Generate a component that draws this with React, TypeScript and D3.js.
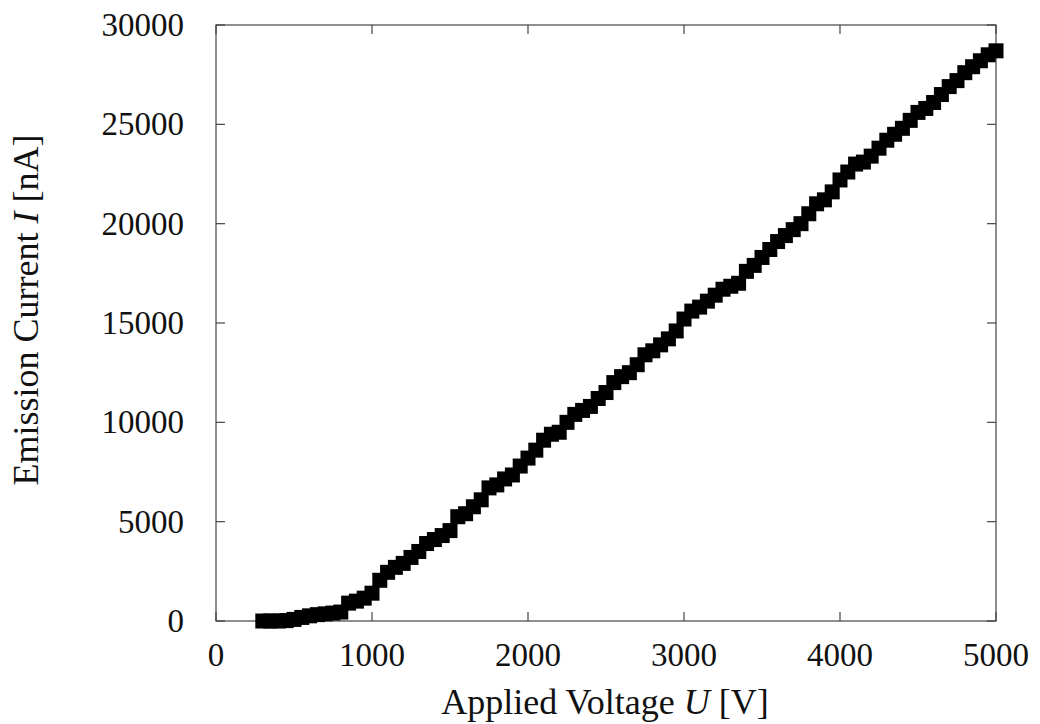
import React from "react";
import * as d3 from "d3";

const voltages: number[] = [
  300, 350, 400, 450, 500, 550, 600, 650, 700, 750, 800, 850, 900, 950, 1000,
  1050, 1100, 1150, 1200, 1250, 1300, 1350, 1400, 1450, 1500, 1550, 1600, 1650,
  1700, 1750, 1800, 1850, 1900, 1950, 2000, 2050, 2100, 2150, 2200, 2250, 2300,
  2350, 2400, 2450, 2500, 2550, 2600, 2650, 2700, 2750, 2800, 2850, 2900, 2950,
  3000, 3050, 3100, 3150, 3200, 3250, 3300, 3350, 3400, 3450, 3500, 3550, 3600,
  3650, 3700, 3750, 3800, 3850, 3900, 3950, 4000, 4050, 4100, 4150, 4200, 4250,
  4300, 4350, 4400, 4450, 4500, 4550, 4600, 4650, 4700, 4750, 4800, 4850, 4900,
  4950, 5000,
];

const currents: number[] = [
  0, 0, 0, 20, 80, 180, 260, 320, 360, 400, 450, 900, 1000, 1150, 1400,
  2050, 2450, 2700, 2900, 3200, 3500, 3900, 4100, 4300, 4550, 5250, 5400, 5750,
  6100, 6700, 6850, 7150, 7350, 7800, 8200, 8600, 9100, 9400, 9500, 10000, 10400,
  10600, 10800, 11200, 11500, 12000, 12300, 12500, 12900, 13400, 13600, 13900, 14200, 14600,
  15200, 15600, 15800, 16100, 16400, 16700, 16850, 17000, 17600, 17900, 18300, 18700, 19100,
  19400, 19700, 20000, 20500, 21000, 21200, 21600, 22200, 22600, 23000, 23100, 23400, 23800,
  24200, 24500, 24800, 25200, 25600, 25800, 26100, 26500, 26900, 27200, 27600, 27900, 28200,
  28500, 28700,
];

const xTicks: number[] = [0, 1000, 2000, 3000, 4000, 5000];
const yTicks: number[] = [0, 5000, 10000, 15000, 20000, 25000, 30000];

const xLabel = "Applied Voltage ";
const xVar = "U";
const xUnit = " [V]";
const yLabel = "Emission Current ";
const yVar = "I";
const yUnit = " [nA]";

export default function App() {
  const W = 1040;
  const H = 724;
  const left = 216;
  const right = 996;
  const top = 25;
  const bottom = 621;
  const x = d3.scaleLinear().domain([0, 5000]).range([left, right]);
  const y = d3.scaleLinear().domain([0, 30000]).range([bottom, top]);
  const tick = 9;
  const ms = 15;
  const font = "'Liberation Serif', 'Times New Roman', serif";
  const fs = 33;
  const lfs = 36;
  const frame = "#444";

  return (
    <svg
      width={W}
      height={H}
      viewBox={`0 0 ${W} ${H}`}
      style={{ position: "absolute", left: 0, top: 0, background: "#fff" }}
      fontFamily={font}
    >
      <rect x={0} y={0} width={W} height={H} fill="#fff" />
      <rect
        x={left}
        y={top}
        width={right - left}
        height={bottom - top}
        fill="none"
        stroke={frame}
        strokeWidth={1.2}
      />
      {xTicks.map((t) => (
        <g key={"xt" + t}>
          <line x1={x(t)} x2={x(t)} y1={bottom} y2={bottom - tick} stroke={frame} strokeWidth={1.2} />
          <line x1={x(t)} x2={x(t)} y1={top} y2={top + tick} stroke={frame} strokeWidth={1.2} />
          <text x={x(t)} y={666} fontSize={fs} textAnchor="middle" fill="#111">
            {t}
          </text>
        </g>
      ))}
      {yTicks.map((t) => (
        <g key={"yt" + t}>
          <line x1={left} x2={left + tick} y1={y(t)} y2={y(t)} stroke={frame} strokeWidth={1.2} />
          <line x1={right} x2={right - tick} y1={y(t)} y2={y(t)} stroke={frame} strokeWidth={1.2} />
          <text x={184} y={y(t)} dy="0.33em" fontSize={fs} textAnchor="end" fill="#111">
            {t}
          </text>
        </g>
      ))}
      {voltages.map((v, i) => (
        <rect
          key={"m" + i}
          x={x(v) - ms / 2}
          y={y(currents[i]) - ms / 2}
          width={ms}
          height={ms}
          fill="#000"
        />
      ))}
      <text x={605} y={714} fontSize={lfs} textAnchor="middle" fill="#111">
        {xLabel}
        <tspan fontStyle="italic">{xVar}</tspan>
        {xUnit}
      </text>
      <text
        transform={`translate(38, 310) rotate(-90)`}
        fontSize={lfs}
        textAnchor="middle"
        fill="#111"
      >
        {yLabel}
        <tspan fontStyle="italic">{yVar}</tspan>
        {yUnit}
      </text>
    </svg>
  );
}
